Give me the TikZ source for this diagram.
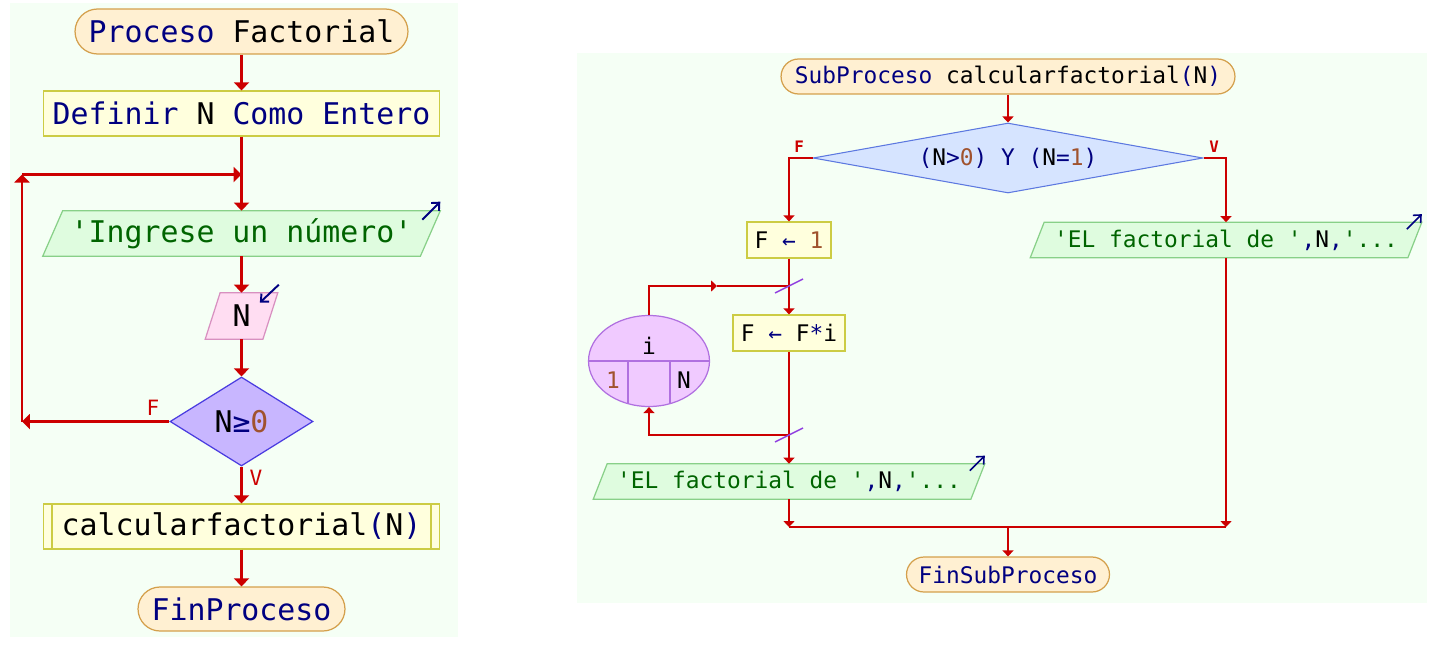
\documentclass[tikz,border=0pt]{standalone}
\usepackage{fontspec}
\setmonofont{DejaVu Sans Mono}
\usetikzlibrary{shapes.geometric,arrows.meta,calc,backgrounds}
\definecolor{bgpanel}{HTML}{F5FFF5}
\definecolor{termfill}{HTML}{FFF0D2}
\definecolor{termbord}{HTML}{D4A04C}
\definecolor{procfill}{HTML}{FFFFDD}
\definecolor{procbord}{HTML}{CCCC44}
\definecolor{outfill}{HTML}{DFFCDF}
\definecolor{outbord}{HTML}{88D088}
\definecolor{infill}{HTML}{FFDDF2}
\definecolor{inbord}{HTML}{D890C0}
\definecolor{condfill}{HTML}{C8B6FF}
\definecolor{condbord}{HTML}{4A3CE0}
\definecolor{condfillb}{HTML}{D6E4FF}
\definecolor{condbordb}{HTML}{5C78E0}
\definecolor{forfill}{HTML}{F0CAFF}
\definecolor{forbord}{HTML}{B070E0}
\definecolor{flowred}{HTML}{CC0000}
\definecolor{kwblue}{HTML}{000080}
\definecolor{strgreen}{HTML}{006400}
\definecolor{numbrown}{HTML}{A0522D}
\definecolor{slashpurple}{HTML}{9040E0}
\newcommand{\kwd}[1]{\textcolor{kwblue}{#1}}
\newcommand{\numb}[1]{\textcolor{numbrown}{#1}}
\newcommand{\strg}[1]{\textcolor{strgreen}{#1}}

\begin{document}
\begin{tikzpicture}[x=0.02cm,y=-0.02cm,every node/.style={inner sep=0pt},
  bigtxt/.style={font=\ttfamily\fontsize{17}{20}\selectfont},
  smalltxt/.style={font=\ttfamily\fontsize{13}{16}\selectfont},
  term/.style={rectangle,draw=termbord,fill=termfill,line width=0.7pt},
  procbox/.style={rectangle,draw=procbord,fill=procfill,line width=0.7pt},
  outbox/.style={draw=outbord,fill=outfill,line width=0.7pt},
  inbox/.style={draw=inbord,fill=infill,line width=0.7pt},
  flow/.style={flowred,line width=1.2pt,-{Triangle[length=0.16cm,width=0.3cm]}},
  rflow/.style={flowred,line width=0.9pt,-{Triangle[length=0.12cm,width=0.22cm]}},
  rline/.style={flowred,line width=0.9pt},
  icon/.style={kwblue,line width=1.1pt,-{Straight Barb[length=0.12cm,width=0.22cm]}},
  lbl/.style={text=flowred,font=\ttfamily\fontsize{12}{14}\selectfont},
  rlbl/.style={text=flowred,font=\ttfamily\bfseries\fontsize{9}{11}\selectfont}]
 \useasboundingbox (0,0) rectangle (1435,649);
 \begin{scope}[on background layer]
   \fill[bgpanel] (10,3) rectangle (458,637);
   \fill[bgpanel] (577,53) rectangle (1427,603);
 \end{scope}

 \node[term,bigtxt,minimum width=6.66cm,minimum height=0.9cm,rounded corners=0.45cm] (proc) at (241.5,31.5) {\kwd{Proceso} Factorial};
 \node[procbox,bigtxt,minimum width=7.92cm,minimum height=0.9cm] (def) at (241.5,113.5) {\kwd{Definir} N \kwd{Como Entero}};
 \node[bigtxt,minimum width=7.54cm,minimum height=0.9cm] (inp) at (241.5,233.5) {\strg{'Ingrese un número'}};
 \node[bigtxt,minimum width=1.14cm,minimum height=0.92cm] (nin) at (241.5,316) {N};
 \node[diamond,draw=condbord,fill=condfill,line width=0.7pt,shape aspect=1.6,minimum width=2.86cm,minimum height=1.78cm,bigtxt] (dec) at (241.5,421.5) {N\kwd{≥}\numb{0}};
 \node[procbox,bigtxt,minimum width=7.92cm,minimum height=0.9cm] (call) at (241.5,526.5) {calcularfactorial\kwd{(}N\kwd{)}};
 \node[term,bigtxt,minimum width=4.14cm,minimum height=0.88cm,rounded corners=0.44cm] (fin) at (241.5,609) {\kwd{FinProceso}};
 \foreach \s in {1,-1}
   \draw[procbord,line width=0.7pt] ([xshift=\s*0.18cm]call.north -| call.{90+\s*90}) -- ([xshift=\s*0.18cm]call.south -| call.{90+\s*90});
 \draw[icon] ($(inp.north east)+(-8,9)$) -- ($(inp.north east)+(10,-9)$);
 \draw[icon] ($(nin.north east)+(8.5,-8)$) -- ($(nin.north east)+(-10.5,10)$);

 \coordinate (lpa) at (22,421.5);
 \coordinate (lpb) at (22,174.5);
 \draw[flow] (proc) -- (def);
 \draw[flow] (def) -- (inp);
 \draw[flow] (inp) -- (nin);
 \draw[flow] (nin) -- (dec);
 \draw[flow] (dec) -- (call);
 \draw[flow] (call) -- (fin);
 \draw[flow] (dec.west) -- (lpa);
 \draw[flow] (lpa) -- (lpb);
 \draw[flow] (lpb) -- (lpb -| def.south);
 \node[lbl] (lf) at (153,408) {F};
 \node[lbl] (lv) at (256,478) {V};

 \node[term,smalltxt,minimum width=9.08cm,minimum height=0.7cm,rounded corners=0.35cm] (sub) at (1008,76.5) {\kwd{SubProceso} calcularfactorial\kwd{(}N\kwd{)}};
 \node[diamond,draw=condbordb,fill=condfillb,line width=0.6pt,shape aspect=5.5,minimum width=7.8cm,minimum height=1.4cm,smalltxt] (decb) at (1008,158) {\kwd{(}N\kwd{>}\numb{0}\kwd{) Y (}N\kwd{=}\numb{1}\kwd{)}};
 \node[procbox,smalltxt,minimum width=1.68cm,minimum height=0.72cm] (fa) at (789,240) {F \kwd{←} \numb{1}};
 \node[procbox,smalltxt,minimum width=2.24cm,minimum height=0.72cm] (fb) at (789,333) {F \kwd{←} F\kwd{*}i};
 \node[ellipse,draw=forbord,fill=forfill,line width=0.7pt,minimum width=2.42cm,minimum height=1.82cm,
   path picture={\draw[forbord,line width=0.7pt] (path picture bounding box.west) -- (path picture bounding box.east);
     \foreach \dx in {-21,21}
       \draw[forbord,line width=0.7pt] ($(path picture bounding box.center)+(\dx,0)$) -- +(0,60);}] (loop) at (649,361) {};
 \node[smalltxt] (li) at ($(loop)+(0,-15)$) {i};
 \node[smalltxt] (lfrom) at ($(loop)+(-36,19)$) {\numb{1}};
 \node[smalltxt] (lto) at ($(loop)+(35,19)$) {N};
 \node[smalltxt,minimum width=7.54cm,minimum height=0.7cm] (outa) at (789,481.5) {\strg{'EL factorial de '}\kwd{,}N\kwd{,}\strg{'...}};
 \node[smalltxt,minimum width=7.54cm,minimum height=0.7cm] (outb) at (1226,240) {\strg{'EL factorial de '}\kwd{,}N\kwd{,}\strg{'...}};
 \node[term,smalltxt,minimum width=4.06cm,minimum height=0.7cm,rounded corners=0.35cm] (finsub) at (1008,574.5) {\kwd{FinSubProceso}};
 \foreach \n in {outa,outb}
   \draw[icon,line width=0.9pt] ($(\n.north east)+(-8,7)$) -- ($(\n.north east)+(7,-8)$);

 \begin{scope}[on background layer]
   \foreach \n/\s/\c in {inp/10/outbox,nin/7.5/inbox,outa/7/outbox,outb/7/outbox}
     \filldraw[\c] ($(\n.south west)+(-\s,0)$) -- ($(\n.north west)+(\s,0)$) -- ($(\n.north east)+(\s,0)$) -- ($(\n.south east)+(-\s,0)$) -- cycle;
 \end{scope}

 \coordinate (ca) at (789,286);
 \coordinate (cb) at (789,435);
 \coordinate (lm) at (717,286);
 \coordinate (ma) at (789,527);
 \coordinate (mb) at (1226,527);
 \draw[rflow] (sub) -- (decb);
 \draw[rflow] (decb.west) -| (fa.north);
 \draw[rflow] (decb.east) -| (outb.north);
 \draw[rflow] (fa) -- (fb);
 \draw[rflow] (fb) -- (outa);
 \draw[rflow] (loop.north) |- (lm);
 \draw[rline] (lm) -- (ca);
 \draw[rflow] (cb) -| (loop.south);
 \foreach \c in {ca,cb}
   \draw[slashpurple,line width=0.8pt] ($(\c)+(-14,7)$) -- ($(\c)+(14,-7)$);
 \draw[rline] (ma) -- (mb);
 \draw[rflow] (outa.south) -- (ma);
 \draw[rflow] (outb.south) -- (mb);
 \draw[rflow] (finsub.north |- ma) -- (finsub.north);
 \node[rlbl] (rf) at (799,147) {F};
 \node[rlbl] (rv) at (1214,147) {V};
\end{tikzpicture}
\end{document}
